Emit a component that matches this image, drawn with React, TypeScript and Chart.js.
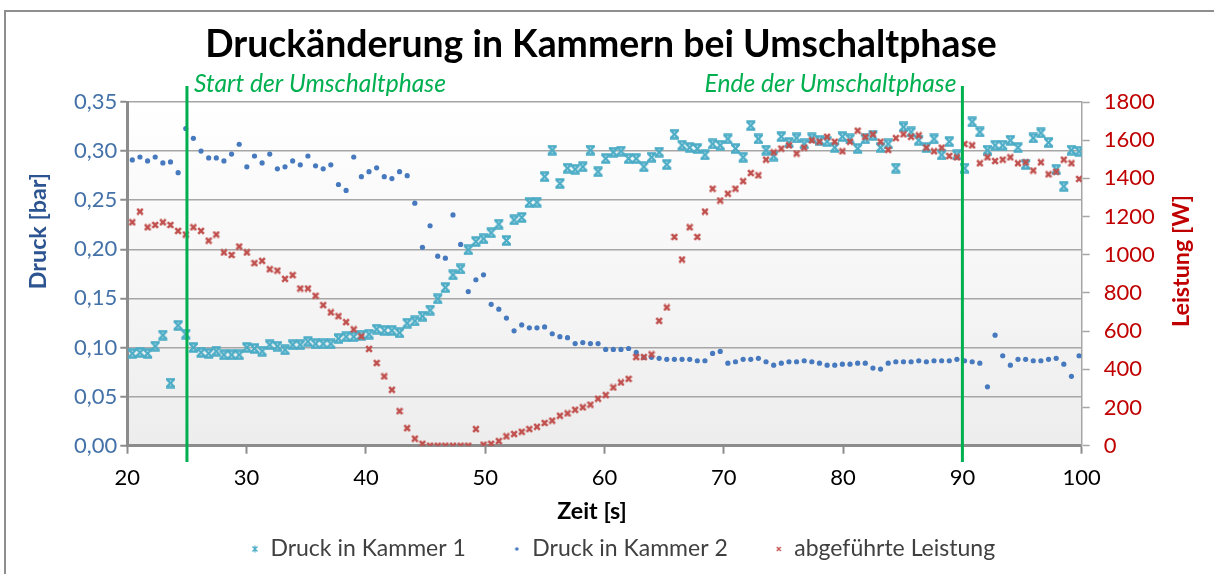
import React, { useEffect, useRef } from 'react';
import { Chart, registerables } from 'chart.js';

Chart.register(...registerables);

const TITLE = 'Druckänderung in Kammern bei Umschaltphase';
const X_TITLE = 'Zeit [s]';
const Y_TITLE = 'Druck [bar]';
const Y2_TITLE = 'Leistung [W]';
const SERIES_NAMES = ['Druck in Kammer 1', 'Druck in Kammer 2', 'abgeführte Leistung'];
const PHASE_TIMES = [25, 90];
const PHASE_LABELS = ['Start der Umschaltphase', 'Ende der Umschaltphase'];

const TIME = [
  20.42, 21.06, 21.70, 22.34, 22.98, 23.62, 24.26, 24.90, 25.54, 26.18,
  26.82, 27.46, 28.10, 28.74, 29.38, 30.02, 30.66, 31.30, 31.94, 32.58,
  33.22, 33.86, 34.50, 35.14, 35.78, 36.42, 37.06, 37.70, 38.34, 38.98,
  39.62, 40.26, 40.90, 41.54, 42.18, 42.82, 43.46, 44.10, 44.74, 45.38,
  46.02, 46.66, 47.30, 47.94, 48.58, 49.22, 49.86, 50.50, 51.14, 51.78,
  52.42, 53.06, 53.70, 54.34, 54.98, 55.62, 56.26, 56.90, 57.54, 58.18,
  58.82, 59.46, 60.10, 60.74, 61.38, 62.02, 62.66, 63.30, 63.94, 64.58,
  65.22, 65.86, 66.50, 67.14, 67.78, 68.42, 69.06, 69.70, 70.34, 70.98,
  71.62, 72.26, 72.90, 73.54, 74.18, 74.82, 75.46, 76.10, 76.74, 77.38,
  78.02, 78.66, 79.30, 79.94, 80.58, 81.22, 81.86, 82.50, 83.14, 83.78,
  84.42, 85.06, 85.70, 86.34, 86.98, 87.62, 88.26, 88.90, 89.54, 90.18,
  90.82, 91.46, 92.10, 92.74, 93.38, 94.02, 94.66, 95.30, 95.94, 96.58,
  97.22, 97.86, 98.50, 99.14, 99.78,
];

const KAMMER1 = [
  0.094, 0.095, 0.094, 0.1014, 0.1126, 0.0638, 0.1225, 0.1136, 0.100, 0.095,
  0.094, 0.0963, 0.0926, 0.0926, 0.0926, 0.100, 0.099, 0.0963, 0.1028, 0.1014,
  0.0977, 0.1028, 0.1028, 0.106, 0.1038, 0.1038, 0.1038, 0.109, 0.111, 0.111,
  0.1126, 0.1136, 0.1187, 0.1174, 0.1174, 0.115, 0.1248, 0.127, 0.132, 0.138,
  0.1496, 0.161, 0.174, 0.180, 0.1995, 0.208, 0.2107, 0.2168, 0.2256, 0.209,
  0.230, 0.2324, 0.2476, 0.248, 0.274, 0.301, 0.267, 0.2826, 0.2815, 0.284,
  0.301, 0.279, 0.2924, 0.2989, 0.300, 0.2924, 0.2924, 0.284, 0.2938, 0.2989,
  0.2863, 0.3172, 0.306, 0.3036, 0.3026, 0.2961, 0.3073, 0.306, 0.3124, 0.3026,
  0.2938, 0.326, 0.3124, 0.301, 0.295, 0.3148, 0.3087, 0.3134, 0.3073, 0.3134,
  0.311, 0.3097, 0.3036, 0.3148, 0.3124, 0.3026, 0.3124, 0.316, 0.3036, 0.3073,
  0.2826, 0.3246, 0.3195, 0.311, 0.3036, 0.3124, 0.2961, 0.3097, 0.2961, 0.2826,
  0.3297, 0.3195, 0.301, 0.306, 0.306, 0.311, 0.3036, 0.2863, 0.3134, 0.3185,
  0.3087, 0.2815, 0.2642, 0.301, 0.2999,
];

const KAMMER2 = [
  0.291, 0.294, 0.290, 0.294, 0.288, 0.289, 0.278, 0.323, 0.313, 0.300,
  0.293, 0.293, 0.290, 0.297, 0.307, 0.284, 0.295, 0.288, 0.297, 0.282,
  0.284, 0.290, 0.286, 0.295, 0.285, 0.282, 0.286, 0.266, 0.260, 0.294,
  0.274, 0.279, 0.283, 0.274, 0.272, 0.279, 0.275, 0.247, 0.202, 0.224,
  0.193, 0.191, 0.235, 0.205, 0.157, 0.169, 0.174, 0.144, 0.139, 0.130,
  0.117, 0.123, 0.120, 0.120, 0.121, 0.114, 0.111, 0.110, 0.104, 0.105,
  0.104, 0.104, 0.098, 0.098, 0.098, 0.099, 0.095, 0.090, 0.090, 0.089,
  0.088, 0.088, 0.088, 0.088, 0.0865, 0.0865, 0.094, 0.096, 0.084, 0.0855,
  0.088, 0.088, 0.089, 0.0855, 0.082, 0.084, 0.0855, 0.0855, 0.0865, 0.0855,
  0.084, 0.082, 0.082, 0.083, 0.083, 0.084, 0.084, 0.079, 0.078, 0.084,
  0.0855, 0.0855, 0.0855, 0.0865, 0.0855, 0.0865, 0.0865, 0.0865, 0.088, 0.0865,
  0.0855, 0.084, 0.060, 0.1126, 0.0916, 0.082, 0.088, 0.088, 0.0865, 0.0865,
  0.088, 0.089, 0.083, 0.0706, 0.0916,
];

const LEISTUNG = [
  1170, 1226, 1144, 1156, 1170, 1156, 1125, 1106, 1144, 1125,
  1074, 1106, 1012, 999, 1043, 1012, 956, 968, 924, 917,
  874, 893, 823, 823, 785, 736, 698, 678, 647, 609,
  572, 507, 433, 363, 293, 181, 92, 37, 10, 0,
  0, 0, 0, 0, 0, 87, 5, 10, 24, 49,
  61, 73, 87, 99, 119, 131, 157, 169, 188, 201,
  215, 246, 265, 305, 331, 350, 464, 464, 478, 654,
  724, 1093, 975, 1144, 1093, 1226, 1346, 1284, 1320, 1346,
  1385, 1428, 1416, 1498, 1536, 1556, 1573, 1530, 1561, 1599,
  1592, 1618, 1592, 1542, 1592, 1650, 1618, 1631, 1592, 1549,
  1611, 1631, 1618, 1625, 1561, 1542, 1561, 1517, 1510, 1580,
  1573, 1479, 1510, 1491, 1498, 1510, 1479, 1484, 1441, 1484,
  1421, 1435, 1498, 1479, 1397,
];

const FONT = 'Lato, "Open Sans", "DejaVu Sans", sans-serif';
const GREEN = '#00B050';
const CYAN = '#4BACC6';
const BLUE = '#4679BD';
const RED = '#C0504D';

function makeCanvas(w: number, h: number, draw: (g: CanvasRenderingContext2D) => void) {
  const c = document.createElement('canvas');
  c.width = w;
  c.height = h;
  const g = c.getContext('2d') as CanvasRenderingContext2D;
  draw(g);
  return c;
}

function fitSize(ctx: CanvasRenderingContext2D, text: string, style: string, weight: string, target: number) {
  ctx.font = `${style} ${weight} 100px ${FONT}`;
  const w = ctx.measureText(text).width;
  return (100 * target) / w;
}

const decorPlugin = {
  id: 'decor',
  beforeDraw(chart: any) {
    const { ctx, chartArea: a, width, height } = chart;
    ctx.save();
    ctx.fillStyle = '#FFFFFF';
    ctx.fillRect(0, 0, width, height);
    ctx.strokeStyle = '#8E8E8E';
    ctx.lineWidth = 2;
    ctx.strokeRect(5, 11, width + 20, height + 20);
    const g = ctx.createLinearGradient(0, a.top, 0, a.bottom);
    g.addColorStop(0, '#FFFFFF');
    g.addColorStop(1, '#EDEDED');
    ctx.fillStyle = g;
    ctx.fillRect(a.left, a.top, a.right - a.left, a.bottom - a.top);
    ctx.restore();
  },
  afterDatasetsDraw(chart: any) {
    const { ctx } = chart;
    const xs = chart.scales.x;
    ctx.save();
    PHASE_TIMES.forEach((t, i) => {
      const px = xs.getPixelForValue(t);
      ctx.strokeStyle = GREEN;
      ctx.lineWidth = 3;
      ctx.beginPath();
      ctx.moveTo(px, 86);
      ctx.lineTo(px, 462);
      ctx.stroke();
      const size = fitSize(ctx, PHASE_LABELS[i], 'italic', '400', 252);
      ctx.font = `italic 400 ${size}px ${FONT}`;
      ctx.fillStyle = GREEN;
      ctx.textBaseline = 'alphabetic';
      ctx.textAlign = i === 0 ? 'left' : 'right';
      ctx.fillText(PHASE_LABELS[i], i === 0 ? px + 7 : px - 6, 92);
    });
    ctx.restore();
  },
  afterDraw(chart: any) {
    const { ctx } = chart;
    ctx.save();
    const ts = fitSize(ctx, TITLE, 'normal', '700', 792);
    ctx.font = `normal 700 ${ts}px ${FONT}`;
    ctx.fillStyle = '#000000';
    ctx.textAlign = 'center';
    ctx.textBaseline = 'alphabetic';
    ctx.fillText(TITLE, 601, 57);
    const as = fitSize(ctx, Y2_TITLE, 'normal', '700', 132);
    ctx.font = `normal 700 ${as}px ${FONT}`;
    ctx.textBaseline = 'middle';
    ctx.fillStyle = '#000000';
    ctx.fillText(X_TITLE, 592, 511);
    ctx.save();
    ctx.translate(38, 231);
    ctx.rotate(-Math.PI / 2);
    ctx.fillStyle = '#2C5491';
    ctx.fillText(Y_TITLE, 0, 0);
    ctx.restore();
    ctx.save();
    ctx.translate(1181, 261);
    ctx.rotate(-Math.PI / 2);
    ctx.fillStyle = '#C00000';
    ctx.fillText(Y2_TITLE, 0, 0);
    ctx.restore();
    ctx.restore();
  },
};

export default function App() {
  const ref = useRef<HTMLCanvasElement | null>(null);

  useEffect(() => {
    if (!ref.current) return;

    const hourglass = makeCanvas(11, 11, (g) => {
      g.strokeStyle = CYAN;
      g.lineWidth = 2.4;
      g.beginPath();
      g.moveTo(1, 1.5); g.lineTo(10, 1.5);
      g.moveTo(1, 9.5); g.lineTo(10, 9.5);
      g.moveTo(2, 2); g.lineTo(9, 9);
      g.moveTo(9, 2); g.lineTo(2, 9);
      g.stroke();
    });
    const redX = makeCanvas(8, 8, (g) => {
      g.strokeStyle = RED;
      g.lineWidth = 2.5;
      g.beginPath();
      g.moveTo(1.2, 1.2); g.lineTo(6.8, 6.8);
      g.moveTo(6.8, 1.2); g.lineTo(1.2, 6.8);
      g.stroke();
    });
    const legStar = makeCanvas(8, 8, (g) => {
      g.strokeStyle = CYAN;
      g.lineWidth = 1.2;
      g.beginPath();
      g.moveTo(1.5, 1.5); g.lineTo(6.5, 6.5);
      g.moveTo(6.5, 1.5); g.lineTo(1.5, 6.5);
      g.moveTo(4, 0.5); g.lineTo(4, 7.5);
      g.stroke();
    });
    const legDot = makeCanvas(6, 6, (g) => {
      g.fillStyle = BLUE;
      g.beginPath();
      g.arc(3, 3, 1.8, 0, Math.PI * 2);
      g.fill();
    });
    const legX = makeCanvas(6, 6, (g) => {
      g.strokeStyle = RED;
      g.lineWidth = 1.3;
      g.beginPath();
      g.moveTo(1, 1); g.lineTo(5, 5);
      g.moveTo(5, 1); g.lineTo(1, 5);
      g.stroke();
    });
    const legendMarkers = [legStar, legDot, legX];

    const tickFont = { family: FONT, size: 22 };

    const chart = new Chart(ref.current, {
      type: 'scatter',
      data: {
        datasets: [
          {
            label: SERIES_NAMES[0],
            data: TIME.map((t, i) => ({ x: t, y: KAMMER1[i] })),
            yAxisID: 'y',
            pointStyle: hourglass as any,
            pointRadius: 5,
            backgroundColor: CYAN,
            borderColor: CYAN,
            order: 3,
          },
          {
            label: SERIES_NAMES[1],
            data: TIME.map((t, i) => ({ x: t, y: KAMMER2[i] })),
            yAxisID: 'y',
            pointStyle: 'circle',
            pointRadius: 2.6,
            borderWidth: 0,
            backgroundColor: BLUE,
            borderColor: BLUE,
            order: 2,
          },
          {
            label: SERIES_NAMES[2],
            data: TIME.map((t, i) => ({ x: t, y: LEISTUNG[i] })),
            yAxisID: 'y2',
            pointStyle: redX as any,
            pointRadius: 4,
            backgroundColor: RED,
            borderColor: RED,
            order: 1,
          },
        ],
      },
      options: {
        responsive: false,
        maintainAspectRatio: false,
        devicePixelRatio: 1,
        animation: false,
        events: [],
        layout: { padding: { left: 32, right: 0, top: 102, bottom: 3.5 } },
        plugins: {
          title: { display: false },
          tooltip: { enabled: false },
          legend: {
            display: true,
            position: 'bottom',
            labels: {
              usePointStyle: true,
              boxWidth: 8,
              boxHeight: 8,
              padding: 47,
              color: '#404040',
              font: { family: FONT, size: 23 },
              sort: (a: any, b: any) => a.datasetIndex - b.datasetIndex,
              generateLabels: (c: any) => {
                const items = (Chart.defaults.plugins.legend.labels as any).generateLabels(c);
                items.forEach((it: any) => {
                  it.pointStyle = legendMarkers[it.datasetIndex];
                });
                return items;
              },
            },
          },
        },
        scales: {
          x: {
            type: 'linear',
            position: 'bottom',
            min: 20,
            max: 100,
            ticks: { stepSize: 10, font: tickFont, color: '#000000', padding: 11, maxRotation: 0 },
            grid: { drawOnChartArea: false, drawTicks: true, tickLength: 8, tickColor: '#8C8C8C', tickWidth: 2 },
            border: { color: '#8C8C8C', width: 3 },
            afterFit: (s: any) => { s.height = 44.8; },
          },
          y: {
            type: 'linear',
            position: 'left',
            min: 0,
            max: 0.35,
            ticks: {
              stepSize: 0.05,
              font: tickFont,
              color: '#4472A8',
              padding: 3,
              callback: (v: any) => Number(v).toFixed(2).replace('.', ','),
            },
            grid: { color: '#A6A6A6', lineWidth: 1.5, tickLength: 7, tickColor: '#8C8C8C', tickWidth: 2 },
            border: { color: '#8C8C8C', width: 3 },
            afterFit: (s: any) => { s.width = 95.3; },
          },
          y2: {
            type: 'linear',
            position: 'right',
            min: 0,
            max: 1800,
            ticks: {
              stepSize: 200,
              font: tickFont,
              color: '#C00000',
              padding: 14,
              callback: (v: any) => String(Math.round(Number(v))),
            },
            grid: { drawOnChartArea: false, tickLength: 8, tickColor: '#A6A6A6', tickWidth: 1.5 },
            border: { color: '#A6A6A6', width: 1.5 },
            afterFit: (s: any) => { s.width = 132.3; },
          },
        },
      } as any,
      plugins: [decorPlugin as any],
    });

    return () => chart.destroy();
  }, []);

  return (
    <div style={{ position: 'fixed', left: 0, top: 0, width: 1214, height: 574, background: '#fff' }}>
      <canvas ref={ref} width={1214} height={574} style={{ display: 'block', width: 1214, height: 574 }} />
    </div>
  );
}
